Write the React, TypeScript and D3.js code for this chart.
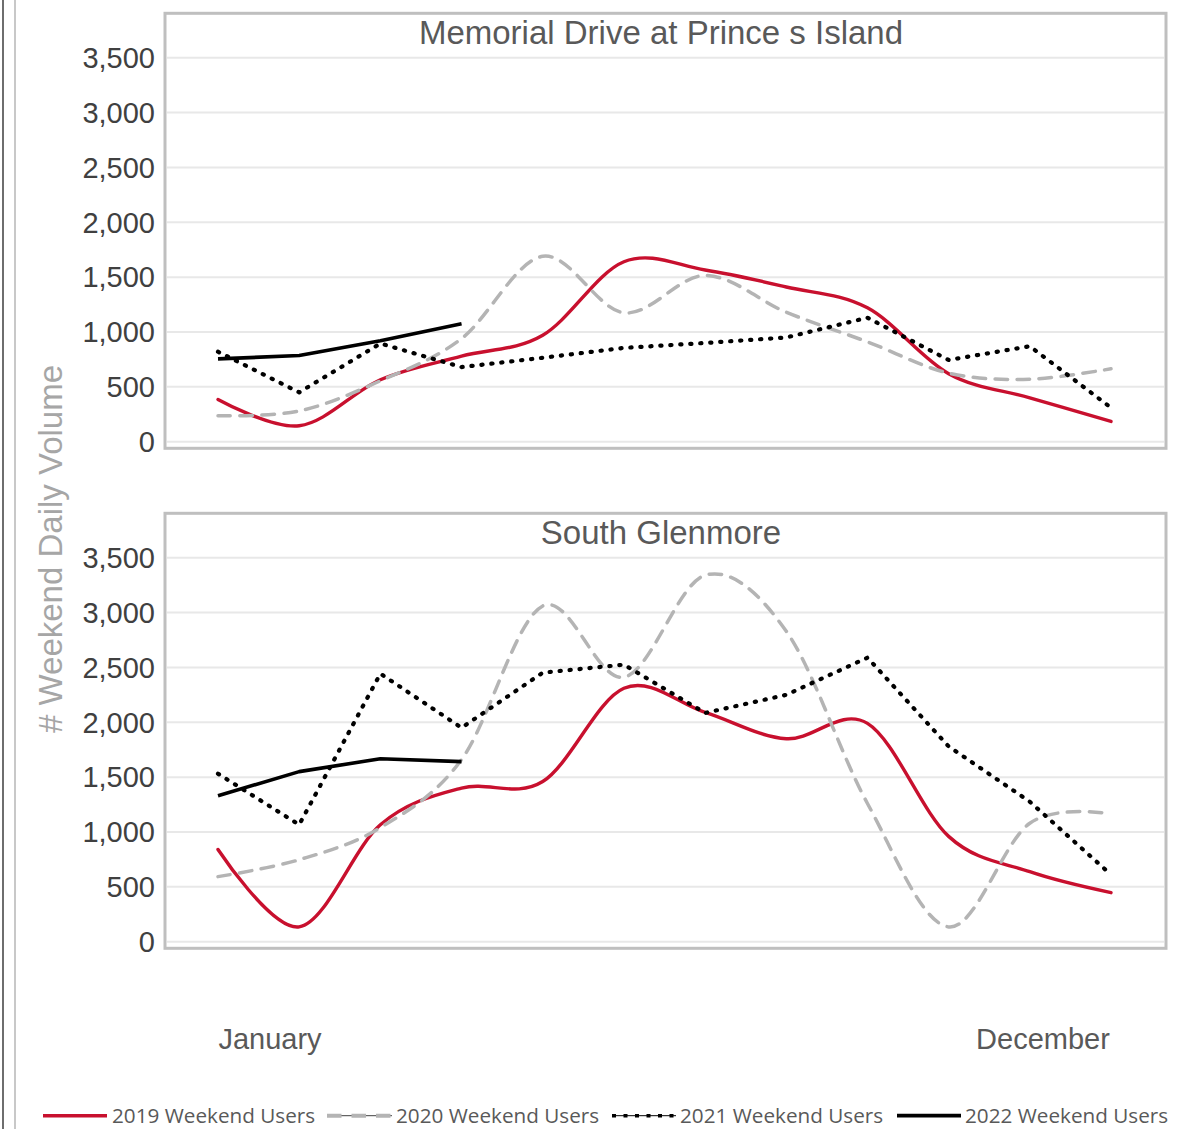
import * as d3 from 'd3';

const MONTHS = ['Jan', 'Feb', 'Mar', 'Apr', 'May', 'Jun', 'Jul', 'Aug', 'Sep', 'Oct', 'Nov', 'Dec'];
const Y_TICKS = [0, 500, 1000, 1500, 2000, 2500, 3000, 3500];

// Memorial Drive at Prince s Island
const MEM_2019 = [385, 145, 565, 780, 970, 1640, 1565, 1410, 1220, 620, 400, 185];
const MEM_2020 = [237, 280, 555, 940, 1690, 1175, 1515, 1180, 910, 625, 570, 665];
const MEM_2021 = [820, 450, 895, 680, 765, 855, 900, 950, 1130, 745, 870, 310];
const MEM_2022 = [755, 785, 920, 1075];

// South Glenmore
const SG_2019 = [840, 135, 1066, 1400, 1460, 2310, 2090, 1850, 1990, 960, 638, 447];
const SG_2020 = [593, 747, 1040, 1660, 3060, 2410, 3340, 2830, 1260, 135, 1080, 1165];
const SG_2021 = [1531, 1066, 2443, 1950, 2452, 2525, 2085, 2250, 2589, 1780, 1276, 611];
const SG_2022 = [1331, 1550, 1668, 1641];

const SERIES_NAMES = ['2019 Weekend Users', '2020 Weekend Users', '2021 Weekend Users', '2022 Weekend Users'];

const RED = '#C8102E';
const GRAY = '#b4b4b4';

const STYLES = [
  { stroke: RED, width: 3.4, dash: undefined, cap: 'round', smooth: true },
  { stroke: GRAY, width: 3.5, dash: '12.5 9.5', cap: 'round', smooth: true },
  { stroke: '#000', width: 4.2, dash: '1.2 8.8', cap: 'round', smooth: false },
  { stroke: '#000', width: 3.6, dash: undefined, cap: 'butt', smooth: false },
];

const PANELS = [
  { title: 'Memorial Drive at Prince s Island', offset: 0, data: [MEM_2019, MEM_2020, MEM_2021, MEM_2022] },
  { title: 'South Glenmore', offset: 500, data: [SG_2019, SG_2020, SG_2021, SG_2022] },
];

const AXIS_FONT = '"Liberation Sans", Arial, sans-serif';

const x = d3.scalePoint<string>().domain(MONTHS).range([218, 1111]);

function Panel({ title, offset, data }: { title: string; offset: number; data: number[][] }) {
  const y = d3.scaleLinear().domain([0, 3500]).range([offset + 441.7, offset + 57.7]);
  return (
    <g>
      {Y_TICKS.map(t => (
        <line key={'g' + t} x1={167} x2={1164} y1={y(t)} y2={y(t)} stroke="#e8e8e8" strokeWidth={2} />
      ))}
      <rect x={165} y={offset + 13.3} width={1001} height={435} fill="none" stroke="#bfbfbf" strokeWidth={3} />
      {Y_TICKS.map(t => (
        <text key={'t' + t} x={155} y={y(t) + 10.3} textAnchor="end" fontSize={29} fill="#404040" fontFamily={AXIS_FONT}>
          {d3.format(',')(t)}
        </text>
      ))}
      <text x={661} y={offset + 44} textAnchor="middle" fontSize={33} fill="#595959" fontFamily={AXIS_FONT}>
        {title}
      </text>
      {data.map((vals, si) => {
        const s = STYLES[si];
        const line = d3
          .line<number>()
          .x((_, i) => x(MONTHS[i]) as number)
          .y(d => y(d))
          .curve(s.smooth ? d3.curveCatmullRom.alpha(0) : d3.curveLinear);
        return (
          <path
            key={si}
            d={line(vals) ?? ''}
            fill="none"
            stroke={s.stroke}
            strokeWidth={s.width}
            strokeDasharray={s.dash}
            strokeLinecap={s.cap as any}
            strokeLinejoin="round"
          />
        );
      })}
    </g>
  );
}

function Legend() {
  const items = [
    { x0: 43, x1: 107, tx: 112 },
    { x0: 327, x1: 392, tx: 396 },
    { x0: 612, x1: 676, tx: 680 },
    { x0: 897, x1: 961, tx: 965 },
  ];
  const ly = 1115.7;
  return (
    <g>
      {items.map((it, i) => (
        <g key={i}>
          {i === 0 && <line x1={it.x0} x2={it.x1} y1={ly} y2={ly} stroke={RED} strokeWidth={3.6} />}
          {i === 1 && (
            <>
              <line x1={it.x0} x2={it.x1} y1={ly} y2={ly} stroke="#404040" strokeWidth={1} />
              <line x1={it.x0} x2={it.x1} y1={ly} y2={ly} stroke={GRAY} strokeWidth={4} strokeDasharray="14.5 10" />
            </>
          )}
          {i === 2 && (
            <>
              <line x1={it.x0} x2={it.x1} y1={ly} y2={ly} stroke="#000" strokeWidth={1} />
              <line x1={it.x0} x2={it.x1} y1={ly} y2={ly} stroke="#000" strokeWidth={3.5} strokeDasharray="4 7.5" />
            </>
          )}
          {i === 3 && <line x1={it.x0} x2={it.x1} y1={ly} y2={ly} stroke="#000" strokeWidth={3.7} />}
          <text x={it.tx} y={1123} fontSize={20.7} fill="#595959" fontFamily='"Open Sans", "Noto Sans", sans-serif'>
            {SERIES_NAMES[i]}
          </text>
        </g>
      ))}
    </g>
  );
}

export default function App() {
  return (
    <div style={{ position: 'absolute', left: 0, top: 0 }}>
      <svg width={1199} height={1129} style={{ display: 'block', background: '#fff' }}>
        <line x1={3} x2={3} y1={0} y2={1129} stroke="#6e6e6e" strokeWidth={2} />
        <line x1={15} x2={15} y1={0} y2={1129} stroke="#c8c8c8" strokeWidth={2} />
        {PANELS.map(p => (
          <Panel key={p.title} {...p} />
        ))}
        <text
          transform="translate(62,549) rotate(-90)"
          textAnchor="middle"
          fontSize={33}
          fill="#a6a6a6"
          fontFamily={AXIS_FONT}
        >
          # Weekend Daily Volume
        </text>
        <text x={270} y={1049} textAnchor="middle" fontSize={29} fill="#595959" fontFamily={AXIS_FONT}>
          January
        </text>
        <text x={1043} y={1049} textAnchor="middle" fontSize={29} fill="#595959" fontFamily={AXIS_FONT}>
          December
        </text>
        <Legend />
      </svg>
    </div>
  );
}
